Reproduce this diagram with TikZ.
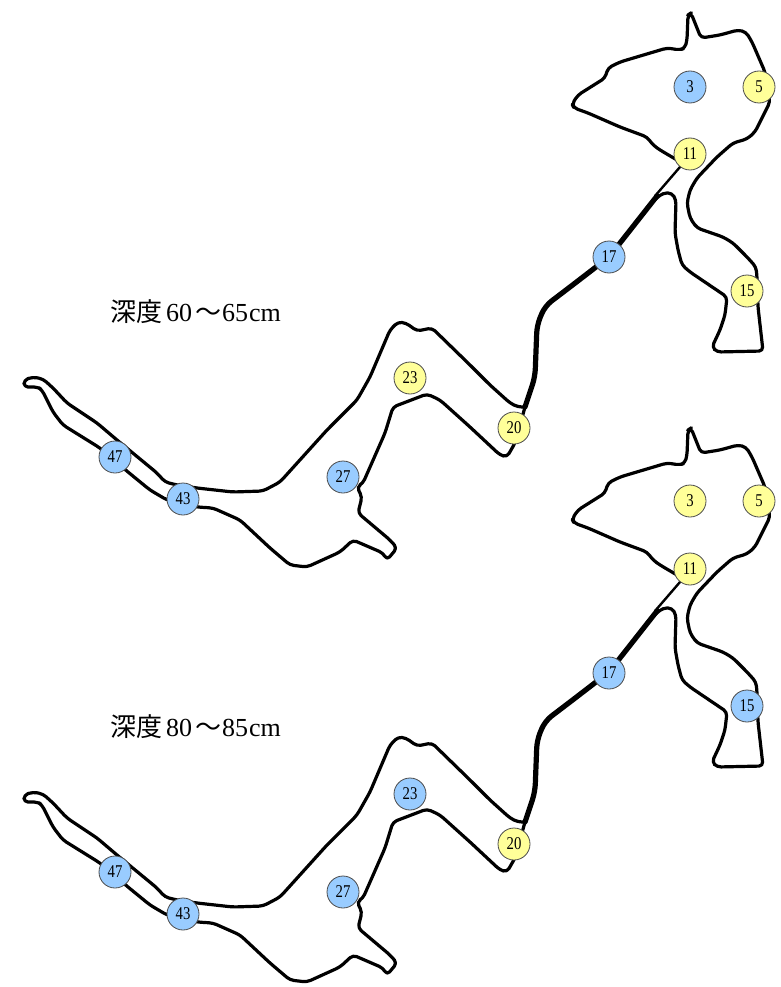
\documentclass[tikz,border=0pt]{standalone}
\usepackage{fontspec}
\setmainfont{Liberation Serif}
\newfontfamily\cjk{Noto Sans CJK JP}
\tikzset{
  x=1pt,y=-1pt,
  wall/.style={line width=3.2pt,black,line join=round,line cap=round,rounded corners=4pt},
  wallthick/.style={line width=5.2pt,black,line join=round,line cap=round,rounded corners=8pt},
  wallthin/.style={line width=2.4pt,black,line cap=round},
  well/.style={circle,draw=black!70,line width=0.8pt,minimum size=32pt,inner sep=0pt},
  bluewell/.style={well,fill=wellblue},
  yellowwell/.style={well,fill=wellyellow},
  depth/.style={anchor=west,inner sep=0pt,font=\fontsize{26pt}{27pt}\selectfont}
}
\definecolor{wellblue}{HTML}{99CCFF}
\definecolor{wellyellow}{HTML}{FFFF99}
\newcommand{\wl}[1]{\scalebox{0.82}[1]{\fontsize{18pt}{19pt}\selectfont #1}}
\newcommand{\caveoutline}{%
  \draw[wall] (677,160)--(660,150)--(653,145)--(647,137)--(620,127)--(588,113)--(574,108)--(572,104)--(578,95)--(605,78)--(608,68)--(620,62)--(667,48)--(680,50)--(685,48)--(687,40)--(688,15)--(691,13)--(695,23)--(701,38)--(720,35)--(738,30)--(746,32)--(752,42)--(765,72)--(770,102)--(755,132)--(747,139)--(733,143)--(717,157)--(697,178)--(690,190)--(687,203)--(690,218)--(697,228)--(723,237)--(733,243)--(747,257)--(756,267)--(757,277)--(758,307)--(763,351)--(717,352)--(712,347)--(720,330)--(725,315)--(727,297)--(690,272)--(682,265)--(678,250)--(675,233)--(676,200)--(672,193)--(663,193)--(653,201);
  \draw[wallthin] (680,167) -- (655,196);
  \draw[wallthick] (657,196)--(609,257)--(570,287)--(545,306)--(537,325)--(535,377)--(525,407);
  \draw[wall] (525,407)--(515,443)--(507,457)--(500,455)--(470,427)--(440,400)--(427,394)--(393,407)--(385,433)--(363,483)--(357,487)--(362,497)--(358,513)--(390,540)--(397,548)--(387,560)--(383,553)--(353,540)--(340,552)--(307,567)--(290,565)--(270,548)--(240,520)--(213,508)--(197,507)--(167,500)--(150,490)--(128,472)--(100,448)--(63,425)--(53,412)--(42,390)--(38,387)--(24,387)--(24,380)--(33,377)--(43,379)--(53,388)--(67,403)--(97,423)--(117,440)--(157,473)--(165,482)--(177,485)--(197,488)--(233,492)--(263,491)--(280,482)--(327,430)--(357,400)--(370,377)--(390,330)--(398,322)--(406,323)--(417,331)--(432,328)--(470,365)--(490,385)--(510,403)--(518,407)--(525,407);
}
\begin{document}
\begin{tikzpicture}
\useasboundingbox (0,0) rectangle (780,987);
\fill[white] (0,0) rectangle (780,987);
\caveoutline
\begin{scope}[yshift=-415pt]
\caveoutline
\end{scope}
\node[bluewell] (a3) at (690,87) {\wl{3}};
\node[yellowwell] (a5) at (759,87) {\wl{5}};
\node[yellowwell] (a11) at (690,154) {\wl{11}};
\node[yellowwell] (a15) at (747,291) {\wl{15}};
\node[bluewell] (a17) at (609,257) {\wl{17}};
\node[yellowwell] (a20) at (514,428) {\wl{20}};
\node[yellowwell] (a23) at (410,378) {\wl{23}};
\node[bluewell] (a27) at (343,477) {\wl{27}};
\node[bluewell] (a43) at (183,499) {\wl{43}};
\node[bluewell] (a47) at (115,457) {\wl{47}};
\node[yellowwell] (b3) at (690,501) {\wl{3}};
\node[yellowwell] (b5) at (759,501) {\wl{5}};
\node[yellowwell] (b11) at (690,569) {\wl{11}};
\node[bluewell] (b15) at (747,706) {\wl{15}};
\node[bluewell] (b17) at (609,673) {\wl{17}};
\node[yellowwell] (b20) at (514,844) {\wl{20}};
\node[bluewell] (b23) at (410,794) {\wl{23}};
\node[bluewell] (b27) at (343,892) {\wl{27}};
\node[bluewell] (b43) at (183,914) {\wl{43}};
\node[bluewell] (b47) at (115,872) {\wl{47}};
\node[depth] (t1) at (110,312) {{\cjk 深度}\kern4pt 60\kern3pt{\cjk 〜}\kern1pt 65\kern1pt cm};
\node[depth] (t2) at (110,727) {{\cjk 深度}\kern4pt 80\kern3pt{\cjk 〜}\kern1pt 85\kern1pt cm};
\end{tikzpicture}
\end{document}
